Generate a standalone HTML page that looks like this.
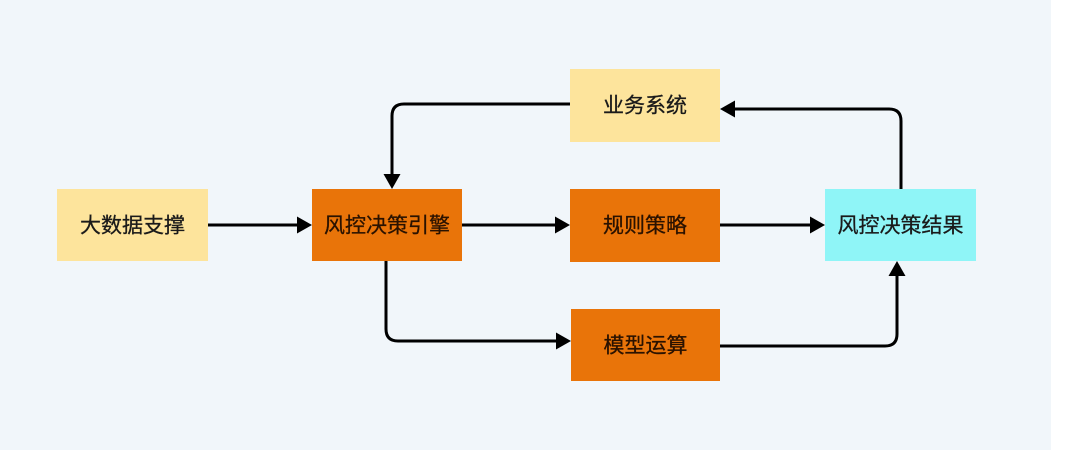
<!DOCTYPE html>
<html><head><meta charset="utf-8"><style>
html,body{margin:0;padding:0;background:#fff;}
svg{display:block;}
text{font-family:"Liberation Sans","Noto Sans CJK SC",sans-serif;font-size:21px;fill:#1a1a1a;stroke:#1a1a1a;stroke-width:0.3;text-anchor:middle;dominant-baseline:central;}
</style></head><body>
<svg width="1080" height="450" viewBox="0 0 1080 450" xmlns="http://www.w3.org/2000/svg">
<rect x="0" y="0" width="1051" height="450" fill="#f1f6fa"/>
<rect x="1051" y="0" width="29" height="450" fill="#ffffff"/>
<!-- boxes -->
<rect x="57" y="189" width="151" height="72" fill="#fde49c"/>
<rect x="312" y="189" width="150" height="72" fill="#e97409"/>
<rect x="570" y="189" width="150" height="73" fill="#e97409"/>
<rect x="570" y="69" width="150" height="73" fill="#fde49c"/>
<rect x="571" y="309" width="149" height="72" fill="#e97409"/>
<rect x="825" y="189" width="151" height="72" fill="#8ff5f7"/>
<text x="132.5" y="226">大数据支撑</text>
<text x="387" y="226" style="fill:#2a1200;stroke:#2a1200">风控决策引擎</text>
<text x="645" y="226" style="fill:#2a1200;stroke:#2a1200">规则策略</text>
<text x="645" y="106">业务系统</text>
<text x="645.5" y="346" style="fill:#2a1200;stroke:#2a1200">模型运算</text>
<text x="900.5" y="226">风控决策结果</text>
<!-- connectors -->
<g fill="none" stroke="#000" stroke-width="3">
<path d="M208 225 H300"/>
<path d="M462 225 H558"/>
<path d="M720 225 H813"/>
<path d="M570 104 H404 Q392 104 392 116 V177"/>
<path d="M901 189 V121 Q901 109 889 109 H732"/>
<path d="M386 261 V329 Q386 341 398 341 H559"/>
<path d="M720 346 H885 Q897 346 897 334 V273"/>
</g>
<g fill="#000">
<polygon points="312,225 297,216.5 297,233.5"/>
<polygon points="570,225 555,216.5 555,233.5"/>
<polygon points="825,225 810,216.5 810,233.5"/>
<polygon points="392,189 383.5,174 400.5,174"/>
<polygon points="720,109 735,100.5 735,117.5"/>
<polygon points="571,341 556,332.5 556,349.5"/>
<polygon points="897,261 888.5,276 905.5,276"/>
</g>
</svg>
</body></html>
